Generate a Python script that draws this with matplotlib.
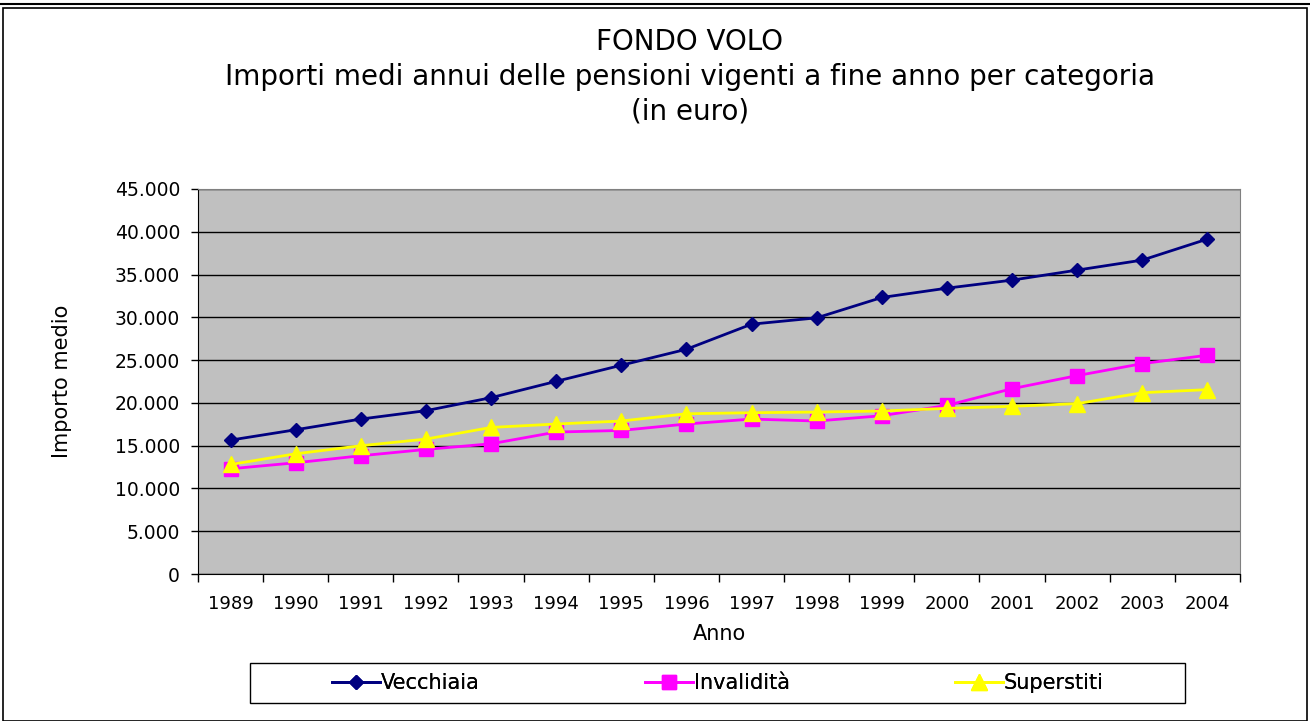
import matplotlib
matplotlib.use("Agg")
import matplotlib.pyplot as plt
from matplotlib.ticker import FuncFormatter, FixedLocator
from matplotlib.patches import Rectangle
from matplotlib.lines import Line2D

# data (euro)
anni = ['1989', '1990', '1991', '1992', '1993', '1994', '1995', '1996',
        '1997', '1998', '1999', '2000', '2001', '2002', '2003', '2004']
vecchiaia = [15650, 16860, 18110, 19090, 20610, 22520, 24400, 26270,
             29200, 29940, 32320, 33410, 34350, 35520, 36690, 39150]
invalidita = [12300, 13000, 13820, 14560, 15220, 16590, 16780, 17530,
              18110, 17880, 18500, 19710, 21660, 23190, 24590, 25570]
superstiti = [12800, 14050, 14990, 15770, 17130, 17530, 17880, 18730,
              18850, 18930, 19050, 19360, 19600, 19910, 21190, 21550]

W, H = 1310, 721
fig = plt.figure(figsize=(W / 100, H / 100), dpi=100)
plt.rcParams['font.family'] = 'DejaVu Sans'

# outer frame
fig.add_artist(Line2D([0, 1], [1 - 3.5 / H, 1 - 3.5 / H], color='black', lw=1.5,
                      transform=fig.transFigure))
fig.add_artist(Rectangle((3 / W, 0), (W - 6) / W, (H - 8) / H, fill=False,
                         edgecolor='black', lw=1.2, transform=fig.transFigure))

ax = fig.add_axes([198 / W, 1 - 574 / H, (1240 - 198) / W, (574 - 189) / H])
ax.set_facecolor('#C0C0C0')

x = list(range(len(anni)))
lines = []
lines += ax.plot(x, vecchiaia, color='#000080', lw=2, marker='D', ms=7.5, label='Vecchiaia')
lines += ax.plot(x, invalidita, color='#FF00FF', lw=2, marker='s', ms=10, label='Invalidità')
lines += ax.plot(x, superstiti, color='#FFFF00', lw=2, marker='^', ms=11, label='Superstiti')

ax.set_xlim(-0.5, len(anni) - 0.5)
ax.set_ylim(0, 45000)
ax.yaxis.set_major_locator(FixedLocator(range(0, 45001, 5000)))
ax.yaxis.set_major_formatter(FuncFormatter(lambda v, p: f"{int(v):,}".replace(',', '.')))
ax.grid(axis='y', color='black', lw=1)
ax.set_axisbelow(True)

ax.set_xticks(x)
ax.set_xticklabels(anni)
ax.set_xticks([i - 0.5 for i in range(len(anni) + 1)], minor=True)
ax.tick_params(axis='x', which='major', length=0, pad=15, labelsize=13)
ax.tick_params(axis='x', which='minor', length=6, direction='out', width=1)
ax.tick_params(axis='y', length=5, width=1, labelsize=13.5, pad=8)

for s in ['top', 'right']:
    ax.spines[s].set_color('#808080')
for s in ['left', 'bottom']:
    ax.spines[s].set_color('black')

ax.set_xlabel('Anno', fontsize=15, labelpad=8)
ax.set_ylabel('Importo medio', fontsize=15, labelpad=31)

fig.text(690 / W, 1 - 77 / H,
         "FONDO VOLO\nImporti medi annui delle pensioni vigenti a fine anno per categoria\n(in euro)",
         ha='center', va='center', fontsize=20, linespacing=1.3)

# legend box with entries centred in three equal columns
lx0, lx1, ly0, ly1 = 250, 1185, 663, 703
fig.add_artist(Rectangle((lx0 / W, 1 - ly1 / H), (lx1 - lx0) / W, (ly1 - ly0) / H,
                         fill=False, edgecolor='black', lw=1, transform=fig.transFigure))
colw = (lx1 - lx0) / 3
for i, ln in enumerate(lines):
    cx = lx0 + colw * (i + 0.5)
    lg = fig.legend([ln], [ln.get_label()], loc='center',
                    bbox_to_anchor=(cx / W, 1 - (ly0 + ly1) / 2 / H),
                    frameon=False, fontsize=15, handlelength=2.3,
                    handletextpad=0.05, borderpad=0)
    fig.add_artist(lg)

fig.savefig('out.png', dpi=100)
